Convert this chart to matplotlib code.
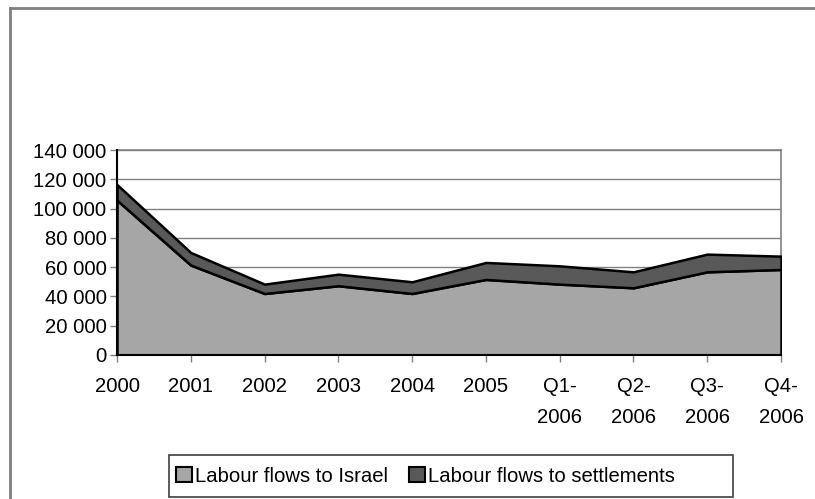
import matplotlib
matplotlib.use("Agg")
import matplotlib.pyplot as plt
from matplotlib.patches import Patch, Rectangle
from matplotlib.lines import Line2D
from matplotlib.ticker import FuncFormatter

plt.rcParams['font.family'] = ['Liberation Sans', 'DejaVu Sans']

categories = ["2000", "2001", "2002", "2003", "2004", "2005",
              "Q1-\n2006", "Q2-\n2006", "Q3-\n2006", "Q4-\n2006"]
israel = [105700, 61400, 42000, 47300, 42000, 51600, 48400, 45900, 56800, 58400]
settlements = [10700, 8600, 6400, 7900, 8000, 11600, 12500, 10900, 12100, 9100]
series_names = ["Labour flows to Israel", "Labour flows to settlements"]
colors = ["#A6A6A6", "#595959"]

FS = 14.6
W, H = 815, 499
fig = plt.figure(figsize=(W / 100, H / 100), dpi=100)
fig.patch.set_facecolor("white")

left, right, top, bottom = 117, 781, 150, 355
ax = fig.add_axes([left / W, 1 - bottom / H, (right - left) / W, (bottom - top) / H])

x = list(range(len(categories)))
ax.stackplot(x, israel, settlements, colors=colors, edgecolor="black",
             linewidth=1.8, zorder=3)

ax.set_xlim(0, len(categories) - 1)
ax.set_ylim(0, 140000)
ax.set_yticks(range(0, 140001, 20000))
ax.yaxis.set_major_formatter(FuncFormatter(lambda v, p: f"{int(v):,}".replace(",", " ")))
ax.set_xticks(x)
ax.set_xticklabels(categories, linespacing=1.85)
ax.grid(axis="y", color="#808080", linewidth=1, zorder=0)
ax.set_axisbelow(True)

for s in ["left", "bottom"]:
    ax.spines[s].set_color("black")
    ax.spines[s].set_linewidth(1.5)
    ax.spines[s].set_zorder(4)
for s in ["top", "right"]:
    ax.spines[s].set_color("#808080")
    ax.spines[s].set_linewidth(1.2)

ax.tick_params(axis="both", labelsize=FS, colors="black", length=5, width=1,
               color="#808080")
ax.tick_params(axis="x", pad=10.5)
ax.tick_params(axis="y", pad=2.5)

# chart area border (left and top)
fig.add_artist(Line2D([9.5 / W, 9.5 / W], [0, 1 - 8 / H], transform=fig.transFigure,
                      color="#808080", linewidth=2))
fig.add_artist(Line2D([9.5 / W, 1], [1 - 8 / H, 1 - 8 / H], transform=fig.transFigure,
                      color="#808080", linewidth=2))

# legend box
lx0, lx1, ly0, ly1 = 169, 733, 455, 497
fig.add_artist(Rectangle((lx0 / W, 1 - ly1 / H), (lx1 - lx0) / W, (ly1 - ly0) / H,
                         transform=fig.transFigure, facecolor="white",
                         edgecolor="#404040", linewidth=1.2))
handles = [Patch(facecolor=c, edgecolor="black", linewidth=1.5) for c in colors]
fig.legend(handles, series_names, loc="center left",
           bbox_to_anchor=(176 / W, 1 - (ly0 + ly1) / 2 / H),
           frameon=False, ncol=2, fontsize=FS, handlelength=0.8, handleheight=0.8,
           handletextpad=0.15, columnspacing=1.0, borderpad=0, borderaxespad=0)

fig.savefig("out.png", dpi=100)
